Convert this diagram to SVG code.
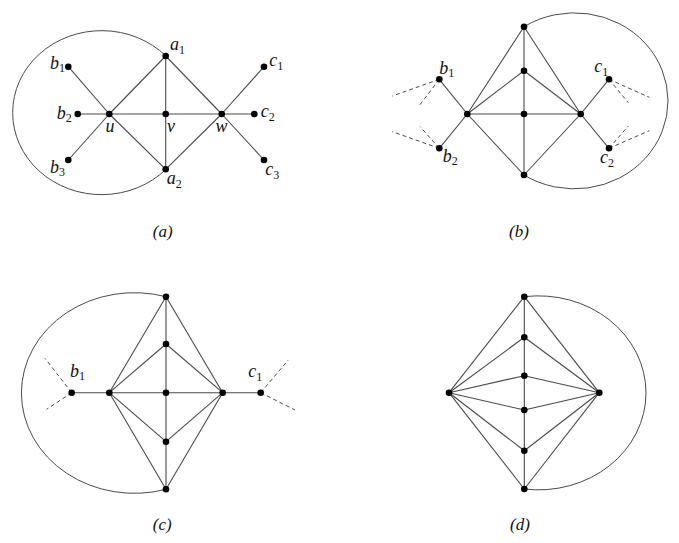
<svg xmlns="http://www.w3.org/2000/svg" width="679" height="543" viewBox="0 0 679 543">
<style>
.e{stroke:#4a4a4a;stroke-width:1.1;fill:none}
.d{stroke:#4a4a4a;stroke-width:1;fill:none;stroke-dasharray:4 3}
.arc{stroke:#4a4a4a;stroke-width:1;fill:none}
circle{fill:#000}
text{font-family:"Liberation Serif","Times New Roman",serif;font-size:18px;font-style:italic;fill:#111}
.s{font-size:12px;font-style:normal}
.cap{text-anchor:middle;font-size:17px}
</style>
<rect width="679" height="543" fill="#fff"/>
<g id="connectors">
<path class="arc" d="M166,56 A89,82 0 1 0 166,169.3"/>
<line class="e" x1="77.7" y1="114" x2="254.3" y2="114"/>
<line class="e" x1="165.7" y1="56" x2="165.7" y2="169.3"/>
<line class="e" x1="68.3" y1="66.7" x2="109.3" y2="114"/>
<line class="e" x1="68.3" y1="160" x2="109.3" y2="114"/>
<line class="e" x1="109.3" y1="114" x2="165.7" y2="56"/>
<line class="e" x1="109.3" y1="114" x2="165.7" y2="169.3"/>
<line class="e" x1="165.7" y1="56" x2="221.7" y2="114"/>
<line class="e" x1="165.7" y1="169.3" x2="221.7" y2="114"/>
<line class="e" x1="221.7" y1="114" x2="264" y2="66.7"/>
<line class="e" x1="221.7" y1="114" x2="264" y2="160"/>
<path class="arc" d="M524,26.7 A93.6,88 0 1 1 524,175"/>
<line class="e" x1="524" y1="26.7" x2="524" y2="175"/>
<line class="e" x1="467.3" y1="114" x2="580.7" y2="114"/>
<line class="e" x1="467.3" y1="114" x2="524" y2="26.7"/>
<line class="e" x1="580.7" y1="114" x2="524" y2="26.7"/>
<line class="e" x1="467.3" y1="114" x2="524" y2="70.7"/>
<line class="e" x1="580.7" y1="114" x2="524" y2="70.7"/>
<line class="e" x1="467.3" y1="114" x2="524" y2="175"/>
<line class="e" x1="580.7" y1="114" x2="524" y2="175"/>
<line class="e" x1="467.3" y1="114" x2="439.3" y2="79.3"/>
<line class="e" x1="467.3" y1="114" x2="439.3" y2="148.3"/>
<line class="e" x1="580.7" y1="114" x2="609" y2="79.3"/>
<line class="e" x1="580.7" y1="114" x2="609" y2="148.3"/>
<line class="d" x1="439.3" y1="79.3" x2="392.3" y2="96"/>
<line class="d" x1="439.3" y1="79.3" x2="418.5" y2="106.7"/>
<line class="d" x1="439.3" y1="148.3" x2="392.3" y2="131.7"/>
<line class="d" x1="439.3" y1="148.3" x2="420" y2="126.5"/>
<line class="d" x1="609" y1="79.3" x2="649.3" y2="97.3"/>
<line class="d" x1="609" y1="79.3" x2="628.3" y2="102.7"/>
<line class="d" x1="609" y1="148.3" x2="649.3" y2="130.7"/>
<line class="d" x1="609" y1="148.3" x2="628.3" y2="126"/>
<path class="arc" d="M166,296.7 A113,100.3 0 1 0 166,489.3"/>
<line class="e" x1="166" y1="296.7" x2="166" y2="489.3"/>
<line class="e" x1="71.7" y1="392.7" x2="260.7" y2="392.7"/>
<line class="e" x1="109.3" y1="392.7" x2="166" y2="296.7"/>
<line class="e" x1="222.7" y1="392.7" x2="166" y2="296.7"/>
<line class="e" x1="109.3" y1="392.7" x2="166" y2="344"/>
<line class="e" x1="222.7" y1="392.7" x2="166" y2="344"/>
<line class="e" x1="109.3" y1="392.7" x2="166" y2="441.7"/>
<line class="e" x1="222.7" y1="392.7" x2="166" y2="441.7"/>
<line class="e" x1="109.3" y1="392.7" x2="166" y2="489.3"/>
<line class="e" x1="222.7" y1="392.7" x2="166" y2="489.3"/>
<line class="d" x1="71.7" y1="392.7" x2="45" y2="358.3"/>
<line class="d" x1="71.7" y1="392.7" x2="46.7" y2="409.3"/>
<line class="d" x1="260.7" y1="392.7" x2="288.3" y2="360"/>
<line class="d" x1="260.7" y1="392.7" x2="295" y2="410"/>
<path class="arc" d="M524.3,296.7 A107.5,97 0 1 1 524.3,489"/>
<line class="e" x1="524.3" y1="296.7" x2="524.3" y2="489"/>
<line class="e" x1="449" y1="392.7" x2="524.3" y2="296.7"/>
<line class="e" x1="449" y1="392.7" x2="524.3" y2="337.3"/>
<line class="e" x1="449" y1="392.7" x2="524.3" y2="375.7"/>
<line class="e" x1="449" y1="392.7" x2="524.3" y2="410"/>
<line class="e" x1="449" y1="392.7" x2="524.3" y2="450.7"/>
<line class="e" x1="449" y1="392.7" x2="524.3" y2="489"/>
<line class="e" x1="599.3" y1="392.7" x2="524.3" y2="296.7"/>
<line class="e" x1="599.3" y1="392.7" x2="524.3" y2="337.3"/>
<line class="e" x1="599.3" y1="392.7" x2="524.3" y2="375.7"/>
<line class="e" x1="599.3" y1="392.7" x2="524.3" y2="410"/>
<line class="e" x1="599.3" y1="392.7" x2="524.3" y2="450.7"/>
<line class="e" x1="599.3" y1="392.7" x2="524.3" y2="489"/>
</g>
<g id="panel-a">
<g id="a1"><circle cx="165.7" cy="56" r="3.3"/><text x="170" y="50">a<tspan class="s" dy="4">1</tspan></text></g>
<g id="a2"><circle cx="165.7" cy="169.3" r="3.3"/><text x="166.7" y="184">a<tspan class="s" dy="4">2</tspan></text></g>
<g id="u"><circle cx="109.3" cy="114" r="3.3"/><text x="105.5" y="131.5">u</text></g>
<g id="v"><circle cx="165.7" cy="114" r="3.3"/><text x="167" y="131.5">v</text></g>
<g id="w"><circle cx="221.7" cy="114" r="3.3"/><text x="215.5" y="131.5">w</text></g>
<g id="b1"><circle cx="68.3" cy="66.7" r="3.3"/><text x="50" y="69">b<tspan class="s" dy="3">1</tspan></text></g>
<g id="b2"><circle cx="77.7" cy="114" r="3.3"/><text x="56.7" y="119">b<tspan class="s" dy="3">2</tspan></text></g>
<g id="b3"><circle cx="68.3" cy="160" r="3.3"/><text x="50" y="172.5">b<tspan class="s" dy="3">3</tspan></text></g>
<g id="c1"><circle cx="264" cy="66.7" r="3.3"/><text x="269.3" y="66">c<tspan class="s" dy="4">1</tspan></text></g>
<g id="c2"><circle cx="254.3" cy="114" r="3.3"/><text x="260.7" y="117.3">c<tspan class="s" dy="4">2</tspan></text></g>
<g id="c3"><circle cx="264" cy="160" r="3.3"/><text x="265.3" y="175.3">c<tspan class="s" dy="4">3</tspan></text></g>
<text class="cap" x="162.7" y="236.5">(a)</text>
</g>
<g id="panel-b">
<g id="b-top"><circle cx="524" cy="26.7" r="3.3"/></g>
<g id="b-mid"><circle cx="524" cy="70.7" r="3.3"/></g>
<g id="b-center"><circle cx="524" cy="114" r="3.3"/></g>
<g id="b-bottom"><circle cx="524" cy="175" r="3.3"/></g>
<g id="b-left"><circle cx="467.3" cy="114" r="3.3"/></g>
<g id="b-right"><circle cx="580.7" cy="114" r="3.3"/></g>
<g id="b-b1"><circle cx="439.3" cy="79.3" r="3.3"/><text x="439.3" y="74">b<tspan class="s" dy="3">1</tspan></text></g>
<g id="b-b2"><circle cx="439.3" cy="148.3" r="3.3"/><text x="442.7" y="161.5">b<tspan class="s" dy="3">2</tspan></text></g>
<g id="b-c1"><circle cx="609" cy="79.3" r="3.3"/><text x="594.3" y="71.7">c<tspan class="s" dy="4">1</tspan></text></g>
<g id="b-c2"><circle cx="609" cy="148.3" r="3.3"/><text x="600" y="163.3">c<tspan class="s" dy="4">2</tspan></text></g>
<text class="cap" x="519" y="236.5">(b)</text>
</g>
<g id="panel-c">
<g id="c-top"><circle cx="166" cy="296.7" r="3.3"/></g>
<g id="c-up"><circle cx="166" cy="344" r="3.3"/></g>
<g id="c-center"><circle cx="166" cy="392.7" r="3.3"/></g>
<g id="c-low"><circle cx="166" cy="441.7" r="3.3"/></g>
<g id="c-bottom"><circle cx="166" cy="489.3" r="3.3"/></g>
<g id="c-left"><circle cx="109.3" cy="392.7" r="3.3"/></g>
<g id="c-right"><circle cx="222.7" cy="392.7" r="3.3"/></g>
<g id="c-b1"><circle cx="71.7" cy="392.7" r="3.3"/><text x="70" y="376.5">b<tspan class="s" dy="3">1</tspan></text></g>
<g id="c-c1"><circle cx="260.7" cy="392.7" r="3.3"/><text x="248.3" y="376.5">c<tspan class="s" dy="4">1</tspan></text></g>
<text class="cap" x="162.3" y="530">(c)</text>
</g>
<g id="panel-d">
<g id="d1"><circle cx="524.3" cy="296.7" r="3.3"/></g>
<g id="d2"><circle cx="524.3" cy="337.3" r="3.3"/></g>
<g id="d3"><circle cx="524.3" cy="375.7" r="3.3"/></g>
<g id="d4"><circle cx="524.3" cy="410" r="3.3"/></g>
<g id="d5"><circle cx="524.3" cy="450.7" r="3.3"/></g>
<g id="d6"><circle cx="524.3" cy="489" r="3.3"/></g>
<g id="d-left"><circle cx="449" cy="392.7" r="3.3"/></g>
<g id="d-right"><circle cx="599.3" cy="392.7" r="3.3"/></g>
<text class="cap" x="520" y="530">(d)</text>
</g>
</svg>
